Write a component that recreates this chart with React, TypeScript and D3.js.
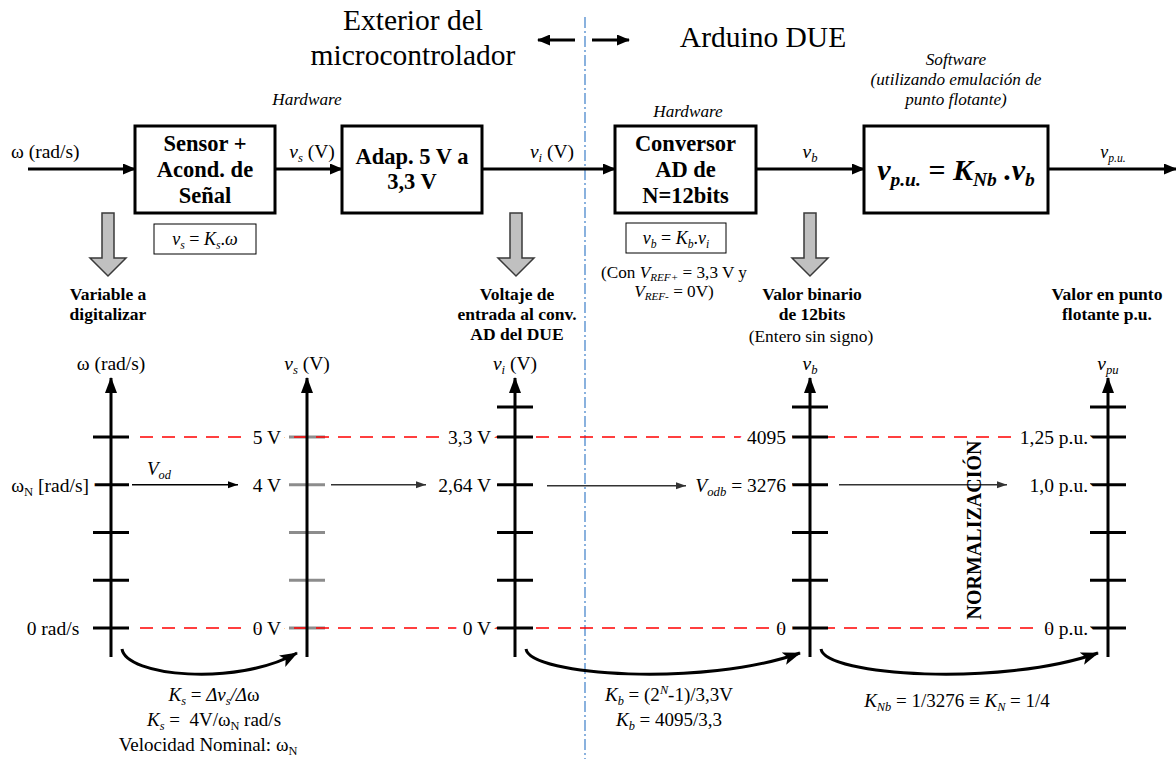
import { useEffect } from 'react';
import * as d3 from 'd3';

// ---- data ----
const tickLevels = [0, 1, 2, 3, 4];
const extraTopLevel = 4.63;
const hasTopTick = [false, false, true, true, true];
const labelLevels = [0, 3, 4];
const refLevels = [0, 4];
const nominalLevel = 3;

const axisTitles = ['ω (rad/s)', '*v_{s}* (V)', '*v_{i}* (V)', '*v_{b}*', '*v_{pu}*'];
const omegaLabels = ['0 rad/s\u00a0\u00a0', 'ω_{N} [rad/s]', ''];
const vsLabels = ['0 V', '4 V', '5 V'];
const viLabels = ['0 V', '2,64 V', '3,3 V'];
const vbLabels = ['0', '*V_{odb}* = 3276', '4095'];
const vpuLabels = ['0 p.u.', '1,0 p.u.', '1,25 p.u.'];
const axisLabels = [omegaLabels, vsLabels, viLabels, vbLabels, vpuLabels];

const transferPairs = [[0, 1], [2, 3], [3, 4]];

// ---- layout ----
const W = 1176;
const H = 759;
const AXIS_X = [111, 307, 515, 810, 1108];
const AXIS_TOP = 378;
const AXIS_BOTTOM = 657;
const TICK_HALF = 18;
const LABEL_GAP = [22, 26, 24, 24, 20];
const NOMINAL_ARROWS = [[132, 238], [331, 426], [547, 686], [839, 1007]];
const BLOCK_Y = [126, 213];
const SIGNAL_Y = 169;
const FONT = "Liberation Serif, DejaVu Serif, serif";

type Seg = { t: string; i: boolean; sub?: boolean; sup?: boolean };

function parse(s: string): Seg[] {
  const out: Seg[] = [];
  let italic = false;
  let buf = '';
  let i = 0;
  const flush = () => {
    if (buf) out.push({ t: buf, i: italic });
    buf = '';
  };
  while (i < s.length) {
    const c = s[i];
    if (c === '*') {
      flush();
      italic = !italic;
      i++;
      continue;
    }
    if ((c === '_' || c === '^') && s[i + 1] === '{') {
      flush();
      const end = s.indexOf('}', i);
      out.push({ t: s.slice(i + 2, end), i: italic, sub: c === '_', sup: c === '^' });
      i = end + 1;
      continue;
    }
    buf += c;
    i++;
  }
  flush();
  return out;
}

interface RichProps {
  x: number;
  y: number;
  text: string;
  size: number;
  anchor?: 'start' | 'middle' | 'end';
  bold?: boolean;
  italic?: boolean;
  fill?: string;
  halo?: boolean;
  transform?: string;
}

function RichText({ x, y, text, size, anchor = 'start', bold, italic, fill = '#000', transform, stroke }: RichProps & { stroke?: boolean }) {
  let shift = 0;
  return (
    <text
      x={x}
      y={y}
      textAnchor={anchor}
      fill={fill}
      fontFamily={FONT}
      fontSize={size}
      fontWeight={bold ? 'bold' : 'normal'}
      fontStyle={italic ? 'italic' : 'normal'}
      xmlSpace="preserve"
      stroke={stroke ? '#fff' : undefined}
      strokeWidth={stroke ? 14 : undefined}
      strokeLinejoin="round"
      transform={transform}
      style={{ whiteSpace: 'pre' }}
    >
      {parse(text).map((s, k) => {
        const target = s.sub ? size * 0.2 : s.sup ? -size * 0.38 : 0;
        const dy = target - shift;
        shift = target;
        return (
          <tspan key={k} dy={dy || undefined}
            fontSize={s.sub || s.sup ? size * 0.65 : undefined}
            fontStyle={s.i || italic ? 'italic' : 'normal'}>
            {s.t}
          </tspan>
        );
      })}
    </text>
  );
}

function Rich(props: RichProps) {
  if (!props.halo) return <RichText {...props} />;
  return (
    <g>
      <RichText {...props} fill="#fff" stroke />
      <RichText {...props} />
    </g>
  );
}

function Block({ x0, x1, lines, size, baseY, step }: { x0: number; x1: number; lines: string[]; size: number; baseY: number; step: number }) {
  return (
    <g>
      <rect x={x0} y={BLOCK_Y[0]} width={x1 - x0} height={BLOCK_Y[1] - BLOCK_Y[0]} fill="#fff" stroke="#000" strokeWidth={3} />
      {lines.map((l, k) => (
        <Rich key={k} x={(x0 + x1) / 2} y={baseY + k * step} text={l} size={size} anchor="middle" bold />
      ))}
    </g>
  );
}

function GrayArrow({ cx }: { cx: number }) {
  const top = 213, neck = 258, tip = 276, sw = 6, hw = 18;
  const p = d3.path();
  p.moveTo(cx - sw, top);
  p.lineTo(cx + sw, top);
  p.lineTo(cx + sw, neck);
  p.lineTo(cx + hw, neck);
  p.lineTo(cx, tip);
  p.lineTo(cx - hw, neck);
  p.lineTo(cx - sw, neck);
  p.closePath();
  return <path d={p.toString()} fill="#c0c0c0" stroke="#3a3a3a" strokeWidth={1.5} />;
}

export default function App() {
  useEffect(() => {
    document.body.style.margin = '0';
  }, []);

  const y = d3.scaleLinear().domain([0, 4]).range([628, 437]);
  const x = (i: number) => AXIS_X[i];

  const curve = (a: number, b: number) => {
    const x0 = x(a) + 11, x1 = x(b) - 10;
    const y0 = AXIS_BOTTOM - 8, y1 = AXIS_BOTTOM - 4;
    const p = d3.path();
    p.moveTo(x0, y0);
    p.bezierCurveTo(x0 + 4, y0 + 27, x1 - (x1 - x0) * 0.35, y0 + 38, x1, y1);
    return p.toString();
  };

  const TS = 19.5; // tick label size
  const FS = 19; // gain formula size

  return (
    <svg width={W} height={H} viewBox={`0 0 ${W} ${H}`} style={{ display: 'block', background: '#fff' }}>
      <defs>
        <marker id="hBig" markerUnits="userSpaceOnUse" markerWidth={13} markerHeight={11} refX={12} refY={5.5} orient="auto">
          <path d="M0,0 L13,5.5 L0,11 z" fill="#000" />
        </marker>
        <marker id="hThin" markerUnits="userSpaceOnUse" markerWidth={10} markerHeight={8} refX={10} refY={4} orient="auto">
          <path d="M0,0.5 L10,4 L0,7.5 z" fill="#000" />
        </marker>
        <marker id="hThinGray" markerUnits="userSpaceOnUse" markerWidth={10} markerHeight={8} refX={10} refY={4} orient="auto">
          <path d="M0,0.5 L10,4 L0,7.5 z" fill="#333" />
        </marker>
        <marker id="hAxis" markerUnits="userSpaceOnUse" markerWidth={16} markerHeight={12} refX={15} refY={6} orient="auto">
          <path d="M0,0 L16,6 L0,12 z" fill="#000" />
        </marker>
        <marker id="hCurve" markerUnits="userSpaceOnUse" markerWidth={18} markerHeight={13} refX={17} refY={6.5} orient="auto">
          <path d="M0,0 L18,6.5 L0,13 L4,6.5 z" fill="#000" />
        </marker>
      </defs>

      {/* Titles */}
      <Rich x={413} y={30} text="Exterior del" size={29.5} anchor="middle" />
      <Rich x={413} y={65} text="microcontrolador" size={29.5} anchor="middle" />
      <Rich x={763} y={47} text="Arduino DUE" size={29.5} anchor="middle" />
      <line x1={575} y1={40} x2={538} y2={40} stroke="#000" strokeWidth={3} markerEnd="url(#hBig)" />
      <line x1={592} y1={40} x2={629} y2={40} stroke="#000" strokeWidth={3} markerEnd="url(#hBig)" />
      <line x1={585} y1={17} x2={585} y2={H} stroke="#3c7fc8" strokeWidth={1.2} strokeDasharray="11,3,2,3" />

      <Rich x={307} y={105} text="Hardware" size={17.2} anchor="middle" italic />
      <Rich x={688} y={117} text="Hardware" size={17.2} anchor="middle" italic />
      <Rich x={956} y={65} text="Software" size={17.2} anchor="middle" italic />
      <Rich x={956} y={85} text="(utilizando emulación de" size={17.2} anchor="middle" italic />
      <Rich x={956} y={105} text="punto flotante)" size={17.2} anchor="middle" italic />

      {/* Signal chain */}
      <line x1={28} y1={SIGNAL_Y} x2={135} y2={SIGNAL_Y} stroke="#000" strokeWidth={3} markerEnd="url(#hBig)" />
      <line x1={275} y1={SIGNAL_Y} x2={342} y2={SIGNAL_Y} stroke="#000" strokeWidth={3} markerEnd="url(#hBig)" />
      <line x1={482} y1={SIGNAL_Y} x2={615} y2={SIGNAL_Y} stroke="#000" strokeWidth={3} markerEnd="url(#hBig)" />
      <line x1={756} y1={SIGNAL_Y} x2={864} y2={SIGNAL_Y} stroke="#000" strokeWidth={3} markerEnd="url(#hBig)" />
      <line x1={1048} y1={SIGNAL_Y} x2={1176} y2={SIGNAL_Y} stroke="#000" strokeWidth={3} markerEnd="url(#hBig)" />
      <Rich x={11} y={158} text="ω (rad/s)" size={19.5} />
      <Rich x={312} y={158} text="*v_{s}* (V)" size={19.5} anchor="middle" />
      <Rich x={552} y={158} text="*v_{i}* (V)" size={19.5} anchor="middle" />
      <Rich x={810} y={158} text="*v_{b}*" size={19.5} anchor="middle" />
      <Rich x={1113} y={158} text="*v_{p.u.}*" size={18} anchor="middle" />

      <Block x0={135} x1={275} lines={['Sensor +', 'Acond. de', 'Señal']} size={22.5} baseY={151} step={26} />
      <Block x0={342} x1={482} lines={['Adap. 5 V a', '3,3 V']} size={22.5} baseY={164} step={25} />
      <Block x0={615} x1={756} lines={['Conversor', 'AD de', 'N=12bits']} size={22.5} baseY={151} step={26} />
      <Block x0={864} x1={1048} lines={[]} size={22.5} baseY={0} step={0} />
      <Rich x={956} y={180} text="v_{p.u.} = K_{Nb} .v_{b}" size={30} anchor="middle" bold italic />

      <rect x={154} y={224} width={102} height={30} fill="#fff" stroke="#000" strokeWidth={1} />
      <Rich x={205} y={245} text="*v_{s}* = *K_{s}*.*ω*" size={18} anchor="middle" />
      <rect x={626} y={223} width={100} height={30} fill="#fff" stroke="#000" strokeWidth={1} />
      <Rich x={676} y={244} text="*v_{b}* = *K_{b}*.*v_{i}*" size={18} anchor="middle" />
      <Rich x={674} y={278} text="(Con *V_{REF+}* = 3,3 V y" size={17.2} anchor="middle" />
      <Rich x={674} y={297} text="*V_{REF-}* = 0V)" size={17.2} anchor="middle" />

      <GrayArrow cx={108} />
      <GrayArrow cx={516} />
      <GrayArrow cx={810} />
      <Rich x={108} y={300} text="Variable a" size={17.5} anchor="middle" bold />
      <Rich x={108} y={320} text="digitalizar" size={17.5} anchor="middle" bold />
      <Rich x={517} y={300} text="Voltaje de" size={17.5} anchor="middle" bold />
      <Rich x={517} y={320} text="entrada al conv." size={17.5} anchor="middle" bold />
      <Rich x={517} y={340} text="AD del DUE" size={17.5} anchor="middle" bold />
      <Rich x={812} y={300} text="Valor binario" size={17.5} anchor="middle" bold />
      <Rich x={812} y={320} text="de 12bits" size={17.5} anchor="middle" bold />
      <Rich x={811} y={342} text="(Entero sin signo)" size={17.4} anchor="middle" />
      <Rich x={1107} y={300} text="Valor en punto" size={17.5} anchor="middle" bold />
      <Rich x={1107} y={320} text="flotante p.u." size={17.5} anchor="middle" bold />

      {/* Gray ticks of v_s axis (under the reference lines) */}
      {tickLevels.map(l => (
        <line key={`g${l}`} x1={x(1) - TICK_HALF} x2={x(1) + TICK_HALF} y1={y(l)} y2={y(l)} stroke="#8c8c8c" strokeWidth={3} />
      ))}

      {/* Reference dashed lines */}
      {refLevels.map(l => (
        <line key={`r${l}`} x1={x(0) + 29} x2={x(4) - LABEL_GAP[4]} y1={y(l)} y2={y(l)}
          stroke="#ff0000" strokeWidth={1.3} strokeDasharray="13,9" />
      ))}

      {/* Axes */}
      {AXIS_X.map((ax, i) => (
        <g key={`a${i}`}>
          <line x1={ax} x2={ax} y1={AXIS_BOTTOM} y2={AXIS_TOP} stroke="#000" strokeWidth={3} markerEnd="url(#hAxis)" />
          {i !== 1 && tickLevels.map(l => (
            <line key={l} x1={ax - TICK_HALF} x2={ax + TICK_HALF} y1={y(l)} y2={y(l)} stroke="#000" strokeWidth={3} />
          ))}
          {hasTopTick[i] && (
            <line x1={ax - TICK_HALF} x2={ax + TICK_HALF} y1={y(extraTopLevel)} y2={y(extraTopLevel)} stroke="#000" strokeWidth={3} />
          )}
          <Rich x={ax} y={370} text={axisTitles[i]} size={19.5} anchor="middle" />
          {axisLabels[i].map((lab, k) => lab && (
            <Rich key={k} x={ax - LABEL_GAP[i]} y={y(labelLevels[k]) + 7} text={lab} size={TS} anchor="end" halo />
          ))}
        </g>
      ))}

      {/* Nominal value arrows */}
      {NOMINAL_ARROWS.map(([a, b], k) => (
        <line key={`n${k}`} x1={a} x2={b} y1={y(nominalLevel) + (k === 2 ? 1 : 0)} y2={y(nominalLevel) + (k === 2 ? 1 : 0)}
          stroke={k === 0 ? '#000' : '#333'} strokeWidth={1.3} markerEnd={k === 0 ? 'url(#hThin)' : 'url(#hThinGray)'} />
      ))}
      <Rich x={147} y={475} text="*V_{od}*" size={19} />

      <Rich x={981} y={530} text="NORMALIZACIÓN" size={20} anchor="middle" bold transform="rotate(-90 981 530)" />

      {/* Transfer curves */}
      {transferPairs.map(([a, b], k) => (
        <path key={`c${k}`} d={curve(a, b)} fill="none" stroke="#000" strokeWidth={3} markerEnd="url(#hCurve)" />
      ))}

      {/* Gains */}
      <Rich x={214} y={701} text="*K_{s}* = *Δv_{s}/Δ*ω" size={FS} anchor="middle" />
      <Rich x={214} y={726} text="*K_{s}* =  4V/ω_{N} rad/s" size={FS} anchor="middle" />
      <Rich x={208} y={751} text="Velocidad Nominal: ω_{N}" size={FS} anchor="middle" />
      <Rich x={669} y={701} text="*K_{b}* = (2*^{N}*-1)/3,3V" size={FS} anchor="middle" />
      <Rich x={669} y={726} text="*K_{b}* = 4095/3,3" size={FS} anchor="middle" />
      <Rich x={957} y={707} text="*K_{Nb}* = 1/3276 ≡ *K_{N}* = 1/4" size={FS} anchor="middle" />
    </svg>
  );
}
